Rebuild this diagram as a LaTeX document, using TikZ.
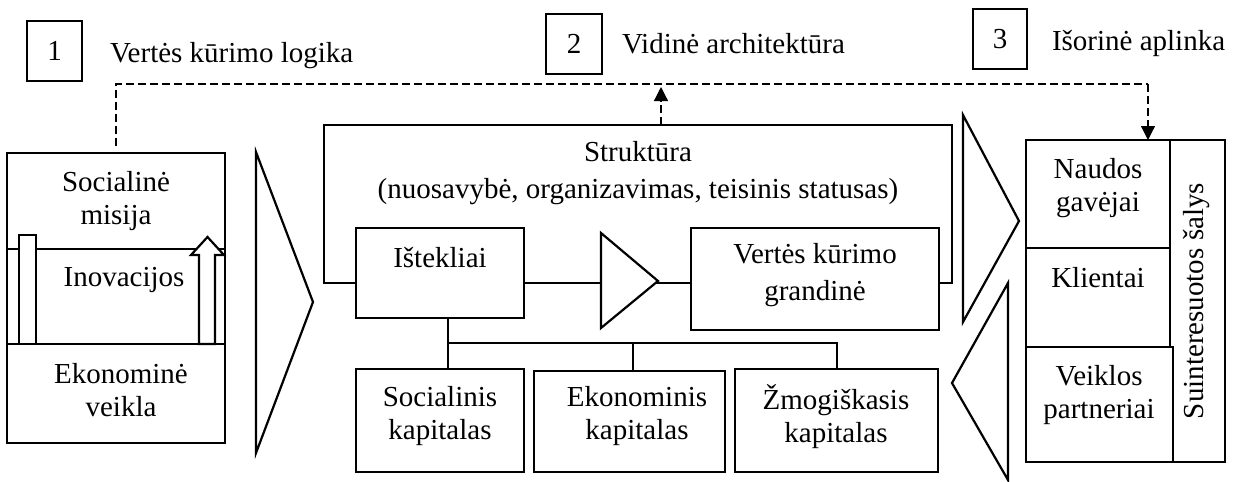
\documentclass[tikz,border=0pt]{standalone}
\usepackage{fontspec}
\setmainfont{Liberation Serif}
\usetikzlibrary{fit,arrows.meta}
\begin{document}
\begin{tikzpicture}[x=0.5pt,y=-0.5pt,
  font=\fontsize{14.5}{16.5}\selectfont,
  box/.style={draw, line width=0.7pt, fill=white, inner sep=0pt, outer sep=0pt},
  obox/.style={draw, line width=0.7pt, inner sep=0pt, outer sep=0pt},
  tri/.style={draw, line width=1.1pt, fill=white, line join=miter},
  bar/.style={draw, line width=1.1pt, fill=white},
  txt/.style={inner sep=0pt, outer sep=0pt, align=center},
  wide/.style={font=\fontsize{14.5}{18.5}\selectfont},
  conn/.style={line width=0.7pt},
  dline/.style={line width=0.6pt, dash pattern=on 4pt off 2pt},
  tipend/.style={-{Triangle[width=7pt,length=7pt]}}
]
\useasboundingbox (0,0) rectangle (1233,482);

% header
\node[box, fit={(27,21)(82,81)}] (n1) {};
\node[txt] (n1t) at (54.5,51) {1};
\node[txt, anchor=base west] (t1) at (110,62) {Vertės kūrimo logika};
\node[box, fit={(546,14)(602,74)}] (n2) {};
\node[txt] (n2t) at (574,44) {2};
\node[txt, anchor=base west] (t2) at (622,54) {Vidinė architektūra};
\node[box, fit={(973,9)(1027,69)}] (n3) {};
\node[txt] (n3t) at (1000,39) {3};
\node[txt, anchor=base west] (t3) at (1052,50) {Išorinė aplinka};

% left block
\node[box, fit={(7,153)(225,249)}] (smis) {};
\node[box, fit={(7,249)(225,344)}] (inov) {};
\node[box, fit={(7,344)(225,443)}] (ekon) {};
\draw[bar] (19,235) rectangle (36,344);
\draw[bar] (199,344) -- (199,255) -- (191,255) -- (207.5,237) -- (224,255) -- (215,255) -- (215,344) -- cycle;
\node[txt] (tsmis) at (116,201) {Socialinė\\misija};
\node[txt] (tinov) at (124,280) {Inovacijos};
\node[txt] (tekon) at (121,390) {Ekonominė\\veikla};

% big left triangle
\draw[tri] (256,152) -- (313,302) -- (256,453) -- cycle;

% structure
\node[obox, fit={(324,125)(952,283)}] (str) {};
\node[txt, wide] (tstr) at (638,173) {Struktūra\\(nuosavybė, organizavimas, teisinis statusas)};
\node[box, fit={(356,228)(524,318)}] (ist) {};
\node[txt] (tist) at (440,258) {Ištekliai};
\draw[tri] (601,233) -- (658,281) -- (601,328) -- cycle;
\node[box, fit={(691,228)(939,330)}] (vkg) {};
\node[txt, wide] (tvkg) at (815,275) {Vertės kūrimo\\grandinė};

% capitals
\node[box, fit={(356,369)(524,472)}] (soc) {};
\node[box, fit={(534,371)(725,472)}] (eko) {};
\node[box, fit={(735,369)(938,472)}] (zmo) {};
\node[txt] (tsoc) at (440,416) {Socialinis\\kapitalas};
\node[txt] (teko) at (637,416) {Ekonominis\\kapitalas};
\node[txt] (tzmo) at (836,417) {Žmogiškasis\\kapitalas};
\coordinate (j0) at (448,343);
\coordinate (j1) at (633,343);
\coordinate (j2) at (837,343);
\draw[conn] (ist.south -| j0) -- (j0) -- (j2) -- (zmo.north -| j2);
\draw[conn] (j0) -- (soc.north -| j0);
\draw[conn] (j1) -- (eko.north -| j1);

% right triangles
\draw[tri] (963,115) -- (1019,221) -- (963,322) -- cycle;
\draw[tri] (1008,283) -- (952,383) -- (1008,480) -- cycle;

% stakeholders
\node[box, fit={(1170,140)(1225,462)}] (suin) {};
\node[box, fit={(1026,140)(1170,248)}] (naud) {};
\node[box, fit={(1026,248)(1170,347)}] (klie) {};
\node[box, fit={(1026,347)(1173,462)}] (veik) {};
\node[txt] (tnaud) at (1098,188) {Naudos\\gavėjai};
\node[txt] (tklie) at (1098,278) {Klientai};
\node[txt] (tveik) at (1099,395) {Veiklos\\partneriai};
\node[txt, rotate=90] (tsuin) at (1197,301) {Suinteresuotos šalys};

% dashed links
\coordinate (d0) at (116,146);
\coordinate (d1) at (116,84);
\coordinate (d2) at (1148,84);
\coordinate (dm) at (661,87);
\draw[dline] (d0) -- (d1) -- (d2);
\draw[dline, tipend] (d2) -- (naud.north -| d2);
\draw[dline, tipend] (str.north -| dm) -- (dm);
\end{tikzpicture}
\end{document}
